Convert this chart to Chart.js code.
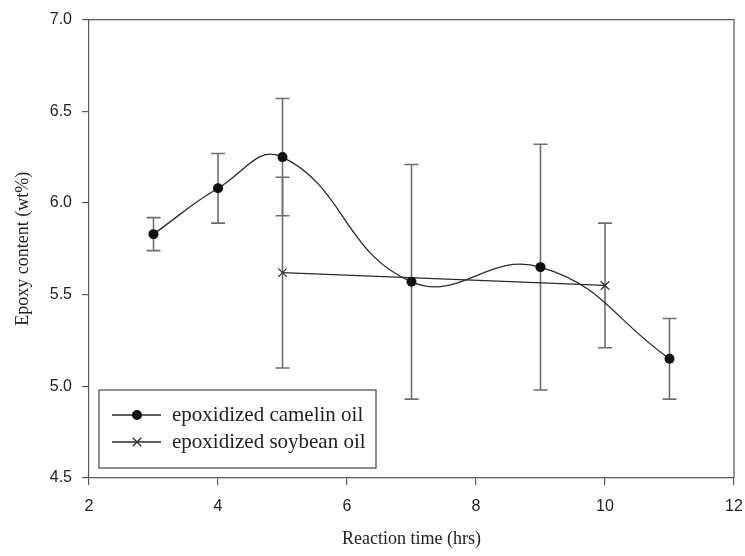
<!DOCTYPE html>
<html>
<head>
<title>Epoxy content vs reaction time</title>
<script src="https://cdn.jsdelivr.net/npm/chart.js"></script>
<style>
  html, body { margin: 0; padding: 0; background: #fff; }
  #wrap { width: 745px; height: 556px; }
</style>
</head>
<body>
  <div id="wrap"><canvas id="epoxyChart" width="745" height="556"></canvas></div>

  <script>
    // Measured epoxy content (wt%) with standard deviations
    const camelinTime = [3, 4, 5, 7, 9, 11];
    const camelinEpoxy = [5.83, 6.08, 6.25, 5.57, 5.65, 5.15];
    const camelinErr = [0.09, 0.19, 0.32, 0.64, 0.67, 0.22];

    const soybeanTime = [5, 10];
    const soybeanEpoxy = [5.62, 5.55];
    const soybeanErr = [0.52, 0.34];

    const xTicks = [2, 4, 6, 8, 10, 12];
    const yTicks = [4.5, 5.0, 5.5, 6.0, 6.5, 7.0];

    const axisGray = "#5a5a5a";
    const barGray = "#6e6e6e";
    const serif = "'Liberation Serif', 'Times New Roman', serif";
    const sans = "'Liberation Sans', Arial, sans-serif";

    const toPoints = (xs, ys) => xs.map((x, i) => ({ x: x, y: ys[i] }));

    // vertical error bars with caps, drawn under the lines
    const errorBars = {
      id: "errorBars",
      beforeDatasetsDraw(chart) {
        const { ctx, scales: { x, y } } = chart;
        ctx.save();
        ctx.strokeStyle = barGray;
        ctx.lineWidth = 1.6;
        chart.data.datasets.forEach(ds => {
          ds.data.forEach((p, i) => {
            const err = ds.errors[i];
            const px = x.getPixelForValue(p.x);
            const top = y.getPixelForValue(p.y + err);
            const bot = y.getPixelForValue(p.y - err);
            ctx.beginPath();
            ctx.moveTo(px, top); ctx.lineTo(px, bot);
            ctx.moveTo(px - 7, top); ctx.lineTo(px + 7, top);
            ctx.moveTo(px - 7, bot); ctx.lineTo(px + 7, bot);
            ctx.stroke();
          });
        });
        ctx.restore();
      }
    };

    // top/right frame plus the boxed legend in the lower left corner
    const frameAndLegend = {
      id: "frameAndLegend",
      afterDraw(chart) {
        const { ctx, chartArea: a } = chart;
        ctx.save();
        ctx.strokeStyle = axisGray;
        ctx.lineWidth = 1.2;
        ctx.beginPath();
        ctx.moveTo(a.left, a.top); ctx.lineTo(a.right, a.top); ctx.lineTo(a.right, a.bottom);
        ctx.stroke();

        const bx = a.left + 10, by = a.bottom - 88, bw = 277, bh = 78;
        ctx.fillStyle = "#fff";
        ctx.fillRect(bx, by, bw, bh);
        ctx.strokeStyle = "#444";
        ctx.lineWidth = 1.2;
        ctx.strokeRect(bx, by, bw, bh);

        chart.data.datasets.forEach((ds, i) => {
          const ly = by + 25 + i * 27;
          ctx.strokeStyle = ds.borderColor;
          ctx.lineWidth = 1.3;
          ctx.beginPath();
          ctx.moveTo(bx + 13, ly); ctx.lineTo(bx + 62, ly);
          ctx.stroke();
          const mx = bx + 38;
          if (ds.pointStyle === "circle") {
            ctx.fillStyle = ds.pointBackgroundColor;
            ctx.beginPath();
            ctx.arc(mx, ly, 5, 0, Math.PI * 2);
            ctx.fill();
          } else {
            const r = 6 * Math.SQRT1_2;
            ctx.beginPath();
            ctx.moveTo(mx - r, ly - r); ctx.lineTo(mx + r, ly + r);
            ctx.moveTo(mx - r, ly + r); ctx.lineTo(mx + r, ly - r);
            ctx.stroke();
          }
          ctx.fillStyle = "#222";
          ctx.font = "21px " + serif;
          ctx.textBaseline = "middle";
          ctx.fillText(ds.label, bx + 73, ly);
        });
        ctx.restore();
      }
    };

    const ctx = document.getElementById("epoxyChart").getContext("2d");

    new Chart(ctx, {
      type: "line",
      data: {
        datasets: [
          {
            label: "epoxidized camelin oil",
            data: toPoints(camelinTime, camelinEpoxy),
            errors: camelinErr,
            borderColor: "#2a2a2a",
            borderWidth: 1.3,
            tension: 0.45,
            pointStyle: "circle",
            pointRadius: 5,
            pointBackgroundColor: "#111",
            pointBorderColor: "#111",
            pointBorderWidth: 0
          },
          {
            label: "epoxidized soybean oil",
            data: toPoints(soybeanTime, soybeanEpoxy),
            errors: soybeanErr,
            borderColor: "#2a2a2a",
            borderWidth: 1.3,
            tension: 0,
            pointStyle: "crossRot",
            pointRadius: 6,
            pointBorderColor: "#333",
            pointBorderWidth: 1.3
          }
        ]
      },
      options: {
        responsive: false,
        animation: false,
        layout: { padding: { top: 18, right: 11, left: 0, bottom: 0 } },
        plugins: {
          legend: { display: false },
          tooltip: { enabled: false }
        },
        scales: {
          x: {
            type: "linear",
            min: 2,
            max: 12,
            afterBuildTicks: s => { s.ticks = xTicks.map(v => ({ value: v })); },
            afterFit: s => { s.height = 78; s.paddingLeft = 0; s.paddingRight = 0; },
            ticks: {
              color: "#222",
              font: { family: sans, size: 16 },
              padding: 12,
              callback: v => String(v)
            },
            grid: { drawOnChartArea: false, drawTicks: true, tickLength: 7, color: axisGray, lineWidth: 1.2 },
            border: { color: axisGray, width: 1.2 },
            title: {
              display: true,
              text: "Reaction time (hrs)",
              color: "#222",
              font: { family: serif, size: 18 },
              padding: { top: 0, bottom: 6 }
            }
          },
          y: {
            min: 4.5,
            max: 7.0,
            afterBuildTicks: s => { s.ticks = yTicks.map(v => ({ value: v })); },
            afterFit: s => { s.width = 89; },
            ticks: {
              color: "#222",
              font: { family: sans, size: 16 },
              padding: 10,
              callback: v => v.toFixed(1)
            },
            grid: { drawOnChartArea: false, drawTicks: true, tickLength: 7, color: axisGray, lineWidth: 1.2 },
            border: { color: axisGray, width: 1.2 },
            title: {
              display: true,
              text: "Epoxy content (wt%)",
              color: "#222",
              font: { family: serif, size: 18 },
              padding: { top: 12, bottom: 0 }
            }
          }
        }
      },
      plugins: [errorBars, frameAndLegend]
    });
  </script>
</body>
</html>
